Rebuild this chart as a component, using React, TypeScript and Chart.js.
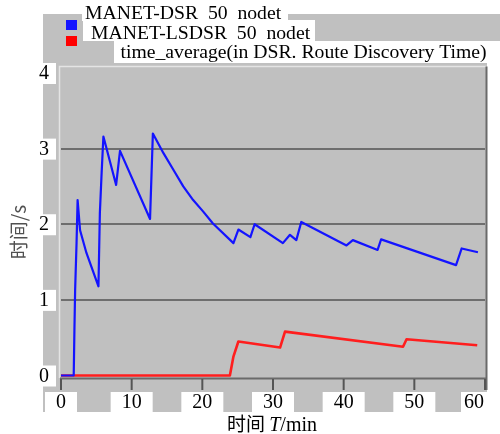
import { useEffect, useRef } from "react";
import { Chart, registerables } from "chart.js";

Chart.register(...registerables);

// ---- data ----
const dsrTimes = [0, 1.8, 1.9, 2.0, 2.2, 2.35, 2.7, 3.6, 5.3, 5.5, 5.75, 6.0, 7.8, 8.35, 12.6, 13.0, 14.5, 15.9, 17.3, 18.7, 20.1, 21.5, 24.4, 25.1, 26.8, 27.4, 31.4, 32.4, 33.3, 34.0, 40.4, 41.3, 44.8, 45.3, 55.9, 56.7, 59.0];
const dsrValues = [0, 0, 0.6, 1.13, 1.75, 2.32, 1.92, 1.62, 1.18, 2.15, 2.68, 3.16, 2.52, 2.97, 2.07, 3.2, 2.94, 2.72, 2.5, 2.32, 2.17, 2.01, 1.75, 1.93, 1.83, 2.0, 1.75, 1.86, 1.79, 2.03, 1.72, 1.79, 1.66, 1.8, 1.46, 1.68, 1.63];
const lsdsrTimes = [0, 23.9, 24.4, 25.1, 31.0, 31.7, 48.4, 48.9, 58.9];
const lsdsrValues = [0, 0, 0.25, 0.45, 0.37, 0.58, 0.38, 0.48, 0.4];
const xTickValues = [0, 10, 20, 30, 40, 50, 60];
const yTickValues = [0, 1, 2, 3, 4];
const legendLabels = ["MANET-DSR  50  nodet", "MANET-LSDSR  50  nodet", "time_average(in DSR. Route Discovery Time)"];
const seriesColors = ["#1414ff", "#ff1e1e"];
const xTitleParts = ["时间 ", "T", "/min"];
const yTitle = "时间/s";

const GRAY = "#c0c0c0";
const SERIF = "'Liberation Serif', 'Times New Roman', serif";
const CJK = "'Noto Sans CJK SC', sans-serif";

const decorPlugin = {
  id: "decor",
  beforeDraw(chart: any) {
    const { ctx, chartArea } = chart;
    const L = chartArea.left, R = chartArea.right, B = chartArea.bottom;
    ctx.save();
    ctx.fillStyle = "#ffffff";
    ctx.fillRect(0, 0, chart.width, chart.height);
    ctx.fillStyle = GRAY;
    ctx.fillRect(L - 18, 14, R + 2 - (L - 18), B + 34 - 14);
    ctx.fillRect(R + 2, 14, chart.width - R - 2, 27);
    ctx.restore();
  },
  afterDraw(chart: any) {
    const { ctx, chartArea, scales } = chart;
    const L = chartArea.left, R = chartArea.right, T = chartArea.top, B = chartArea.bottom;
    const xs = scales.x, ys = scales.y;
    ctx.save();
    // plot frame
    ctx.strokeStyle = "#e4e4e4";
    ctx.lineWidth = 1.5;
    ctx.beginPath();
    ctx.moveTo(L - 1.5, B);
    ctx.lineTo(L - 1.5, T - 1.5);
    ctx.lineTo(R + 1.5, T - 1.5);
    ctx.stroke();
    ctx.strokeStyle = "#6a6a6a";
    ctx.lineWidth = 2;
    ctx.beginPath();
    ctx.moveTo(R + 1.5, T - 1.5);
    ctx.lineTo(R + 1.5, B + 12);
    ctx.moveTo(L - 1, B + 0.5);
    ctx.lineTo(R + 2, B + 0.5);
    ctx.stroke();
    // x ticks
    ctx.strokeStyle = "#555555";
    ctx.lineWidth = 2;
    xTickValues.forEach((v) => {
      const px = Math.min(xs.getPixelForValue(v), R);
      ctx.beginPath();
      ctx.moveTo(px, B + 1);
      ctx.lineTo(px, B + 12);
      ctx.stroke();
    });
    // x labels
    ctx.font = "20px " + SERIF;
    ctx.textBaseline = "middle";
    ctx.textAlign = "center";
    xTickValues.forEach((v, i) => {
      const label = String(v);
      const tw = ctx.measureText(label).width;
      let cx = xs.getPixelForValue(v);
      let w = tw + 22;
      let bx = cx - w / 2;
      if (i === xTickValues.length - 1) {
        bx = R - 24;
        w = 31;
        cx = bx + 13;
      }
      ctx.fillStyle = "#ffffff";
      ctx.fillRect(bx, B + 14, w, 20);
      ctx.fillStyle = "#000000";
      ctx.fillText(label, cx, B + 25);
    });
    // y labels
    ctx.textAlign = "right";
    yTickValues.forEach((v) => {
      const py = ys.getPixelForValue(v);
      ctx.fillStyle = "#ffffff";
      ctx.fillRect(L - 25, py - 10, 20, 21);
      ctx.fillStyle = "#000000";
      ctx.fillText(String(v), L - 12, py + 1);
    });
    // legend
    const boxes = [
      [82, 0, 206, 21],
      [83, 20, 232, 21],
      [114, 41, 379, 22],
    ];
    ctx.fillStyle = "#ffffff";
    boxes.forEach((b) => ctx.fillRect(b[0], b[1], b[2], b[3]));
    ctx.fillStyle = seriesColors[0];
    ctx.fillRect(66, 20, 11, 10);
    ctx.fillStyle = seriesColors[1].replace("#ff1e1e", "#ff0000");
    ctx.fillRect(66, 36, 11, 10);
    ctx.fillStyle = "#000000";
    ctx.textAlign = "left";
    ctx.textBaseline = "alphabetic";
    ctx.font = "19.7px " + SERIF;
    ctx.fillText(legendLabels[0], 85, 19);
    ctx.fillText(legendLabels[1], 91, 39);
    ctx.fillText(legendLabels[2], 120.5, 58);
    // x title
    ctx.textBaseline = "alphabetic";
    ctx.font = "19px " + CJK;
    const w0 = ctx.measureText(xTitleParts[0]).width;
    ctx.font = "italic 20px " + SERIF;
    const w1 = ctx.measureText(xTitleParts[1]).width;
    ctx.font = "20px " + SERIF;
    const w2 = ctx.measureText(xTitleParts[2]).width;
    let tx = 272 - (w0 + w1 + w2) / 2;
    ctx.font = "19px " + CJK;
    ctx.fillText(xTitleParts[0], tx, 431);
    tx += w0;
    ctx.font = "italic 20px " + SERIF;
    ctx.fillText(xTitleParts[1], tx, 431);
    tx += w1;
    ctx.font = "20px " + SERIF;
    ctx.fillText(xTitleParts[2], tx, 431);
    // y title
    ctx.save();
    ctx.translate(19, 232);
    ctx.rotate(-Math.PI / 2);
    ctx.textAlign = "center";
    ctx.textBaseline = "middle";
    ctx.fillStyle = "#505050";
    ctx.font = "19px " + CJK;
    ctx.fillText(yTitle, 0, 0);
    ctx.restore();
    ctx.restore();
  },
};

export default function App() {
  const ref = useRef<HTMLCanvasElement | null>(null);
  useEffect(() => {
    if (!ref.current) return;
    const chart = new Chart(ref.current, {
      type: "line",
      data: {
        datasets: [
          {
            label: legendLabels[0],
            data: dsrTimes.map((t, i) => ({ x: t, y: dsrValues[i] })),
            borderColor: seriesColors[0],
            borderWidth: 2.2,
            pointRadius: 0,
            tension: 0,
            borderJoinStyle: "round",
          },
          {
            label: legendLabels[1],
            data: lsdsrTimes.map((t, i) => ({ x: t, y: lsdsrValues[i] })),
            borderColor: seriesColors[1],
            borderWidth: 2.6,
            pointRadius: 0,
            tension: 0,
            borderJoinStyle: "round",
          },
        ],
      },
      options: {
        responsive: false,
        animation: false,
        layout: { padding: { left: 0, top: 68, right: 15, bottom: 0 } },
        plugins: { legend: { display: false }, tooltip: { enabled: false } },
        scales: {
          x: {
            type: "linear",
            min: 0,
            max: 60,
            grid: { display: false },
            border: { display: false },
            ticks: { display: false },
            afterFit: (s: any) => {
              s.height = 56;
            },
          },
          y: {
            type: "linear",
            min: -0.033,
            max: 4.066,
            afterBuildTicks: (s: any) => {
              s.ticks = yTickValues.map((v) => ({ value: v }));
            },
            grid: {
              drawTicks: false,
              lineWidth: 2,
              color: (c: any) => (c.tick && c.tick.value > 0 && c.tick.value < 4 ? "#6e6e6e" : "rgba(0,0,0,0)"),
            },
            border: { display: false },
            ticks: { display: false },
            afterFit: (s: any) => {
              s.width = 61;
            },
          },
        },
      },
      plugins: [decorPlugin],
    });
    return () => chart.destroy();
  }, []);
  return (
    <div style={{ position: "absolute", left: 0, top: 0, width: 500, height: 434 }}>
      <canvas ref={ref} width={500} height={434} style={{ display: "block" }} />
    </div>
  );
}
